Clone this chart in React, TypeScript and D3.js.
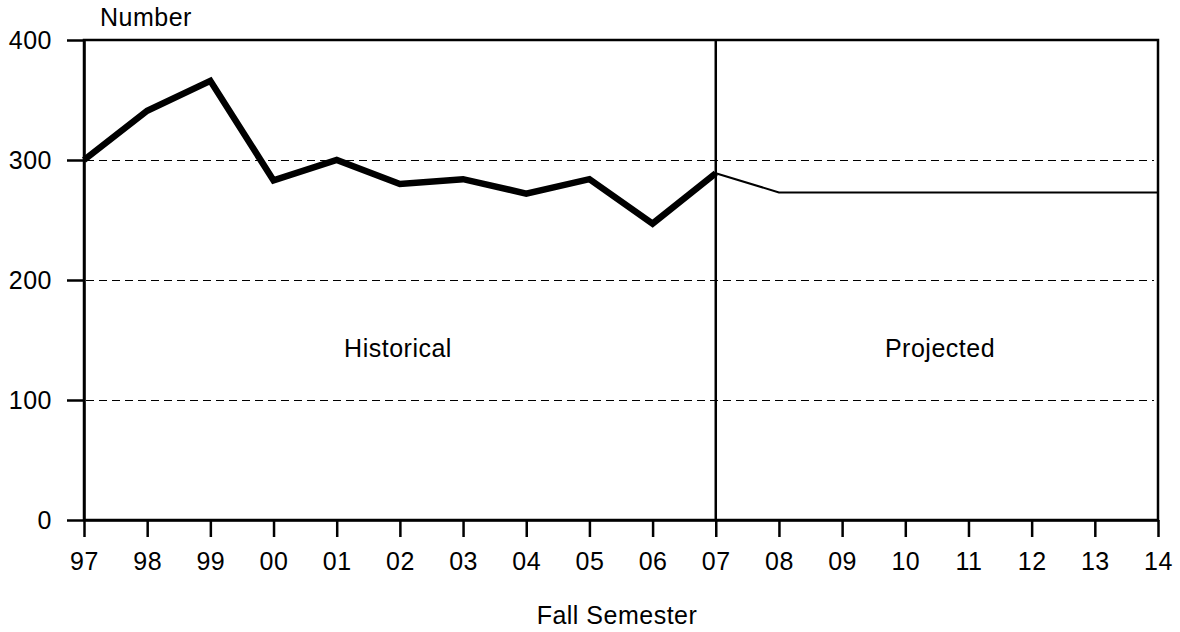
import React, { useRef, useEffect } from "react";
import * as d3 from "d3";

const years = ["97", "98", "99", "00", "01", "02", "03", "04", "05", "06", "07", "08", "09", "10", "11", "12", "13", "14"];
const historical = [300, 341, 366, 283, 300, 280, 284, 272, 284, 247, 289];
const projectedYears = ["07", "08", "09", "10", "11", "12", "13", "14"];
const projected = [289, 273, 273, 273, 273, 273, 273, 273];
const yTicks = [0, 100, 200, 300, 400];
const gridValues = [100, 200, 300];

const width = 1180;
const height = 632;
const margin = { top: 40, right: 22, bottom: 112, left: 84 };

const App: React.FC = () => {
  const ref = useRef<SVGSVGElement | null>(null);

  useEffect(() => {
    const svg = d3.select(ref.current).attr("width", width).attr("height", height);
    svg.selectAll("*").remove();

    const font = "Liberation Sans, Arial, sans-serif";
    const fs = 25;
    const ls = 0.5;
    const x0 = margin.left;
    const x1 = width - margin.right;
    const y0 = height - margin.bottom;
    const y1 = margin.top;

    const x = d3.scalePoint<string>().domain(years).range([x0, x1]);
    const y = d3.scaleLinear().domain([0, 400]).range([y0, y1]);

    // dashed gridlines
    svg
      .append("g")
      .selectAll("line")
      .data(gridValues)
      .join("line")
      .attr("x1", x0 + 2)
      .attr("x2", x1 - 4)
      .attr("y1", (d) => y(d) + 0.5)
      .attr("y2", (d) => y(d) + 0.5)
      .attr("stroke", "#000")
      .attr("stroke-width", 1)
      .attr("stroke-dasharray", "8,5");

    // frame
    svg
      .append("rect")
      .attr("x", x0)
      .attr("y", y1)
      .attr("width", x1 - x0)
      .attr("height", y0 - y1)
      .attr("fill", "none")
      .attr("stroke", "#000")
      .attr("stroke-width", 2.5);

    // divider at 07
    svg
      .append("line")
      .attr("x1", x("07")!)
      .attr("x2", x("07")!)
      .attr("y1", y1)
      .attr("y2", y0)
      .attr("stroke", "#000")
      .attr("stroke-width", 2.5);

    // axes
    const xAxis = svg
      .append("g")
      .attr("transform", `translate(0,${y0})`)
      .call(d3.axisBottom(x).tickSize(17).tickPadding(15).tickSizeOuter(0));
    xAxis.select(".domain").attr("stroke-width", 2.5);
    xAxis.selectAll(".tick line").attr("stroke-width", 2.5);
    xAxis
      .selectAll("text")
      .attr("font-family", font)
      .attr("font-size", fs)
      .attr("letter-spacing", ls)
      .attr("fill", "#000");

    const yAxis = svg
      .append("g")
      .attr("transform", `translate(${x0},0)`)
      .call(d3.axisLeft(y).tickValues(yTicks).tickSize(17).tickPadding(15).tickSizeOuter(0));
    yAxis.select(".domain").attr("stroke-width", 2.5);
    yAxis.selectAll(".tick line").attr("stroke-width", 2.5);
    yAxis
      .selectAll("text")
      .attr("font-family", font)
      .attr("font-size", fs)
      .attr("letter-spacing", ls)
      .attr("fill", "#000");

    // lines
    const line = d3
      .line<[string, number]>()
      .x((d) => x(d[0])!)
      .y((d) => y(d[1]));

    svg
      .append("path")
      .datum(projectedYears.map((yr, i) => [yr, projected[i]] as [string, number]))
      .attr("fill", "none")
      .attr("stroke", "#000")
      .attr("stroke-width", 2)
      .attr("d", line);

    svg
      .append("path")
      .datum(historical.map((v, i) => [years[i], v] as [string, number]))
      .attr("fill", "none")
      .attr("stroke", "#000")
      .attr("stroke-width", 6.5)
      .attr("stroke-linejoin", "miter")
      .attr("d", line);

    // labels
    const label = (tx: number, ty: number, text: string, anchor = "middle") =>
      svg
        .append("text")
        .attr("x", tx)
        .attr("y", ty)
        .attr("text-anchor", anchor)
        .attr("font-family", font)
        .attr("font-size", fs)
        .attr("letter-spacing", ls)
        .attr("fill", "#000")
        .text(text);

    label(100, 26, "Number", "start");
    label(617, 624, "Fall Semester");
    label(398, 357, "Historical");
    label(940, 357, "Projected");
  }, []);

  return <svg ref={ref} style={{ position: "absolute", left: 0, top: 0 }}></svg>;
};

export default App;
